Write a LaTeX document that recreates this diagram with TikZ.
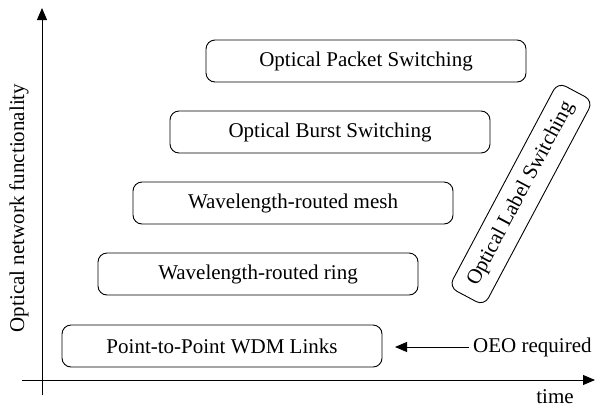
\documentclass[tikz,border=0pt]{standalone}
\usepackage{fontspec}
\setmainfont{Liberation Serif}
\usetikzlibrary{arrows.meta}
\begin{document}
\begin{tikzpicture}[x=1pt,y=-1pt,
  stage/.style={draw,rounded corners=9pt,minimum width=320pt,minimum height=42pt,font=\fontsize{21}{24}\selectfont,line width=0.9pt,inner sep=0pt},
  lbl/.style={font=\fontsize{21}{24}\selectfont,inner sep=0pt},
  ax/.style={line width=0.9pt,-{Triangle[length=12pt,width=10pt]}}]
\useasboundingbox (0,0) rectangle (601,410);
\coordinate (o1) at (42,395);
\coordinate (yt) at (42,8);
\coordinate (o2) at (22,380);
\coordinate (xt) at (595,380);
\draw[ax] (o1) -- (yt);
\draw[ax] (o2) -- (xt);
\node[stage] (ops) at (366,61) {Optical Packet Switching};
\node[stage] (obs) at (330,132) {Optical Burst Switching};
\node[stage] (mesh) at (293,203) {Wavelength-routed mesh};
\node[stage] (ring) at (258,274) {Wavelength-routed ring};
\node[stage] (p2p) at (222,346) {Point-to-Point WDM Links};
\node[stage,rotate=62,minimum width=232pt,minimum height=40pt] (ols) at (521,194) {Optical Label Switching};
\node[lbl,anchor=west] (oeo) at (473,347) {OEO required};
\draw[ax] (oeo.west) ++(-4,0) coordinate (oeos) -- (395,347) coordinate (oeoe);
\node[lbl] (time) at (555,397) {time};
\node[lbl,rotate=90] (ylab) at (19,208) {Optical network functionality};
\end{tikzpicture}
\end{document}
